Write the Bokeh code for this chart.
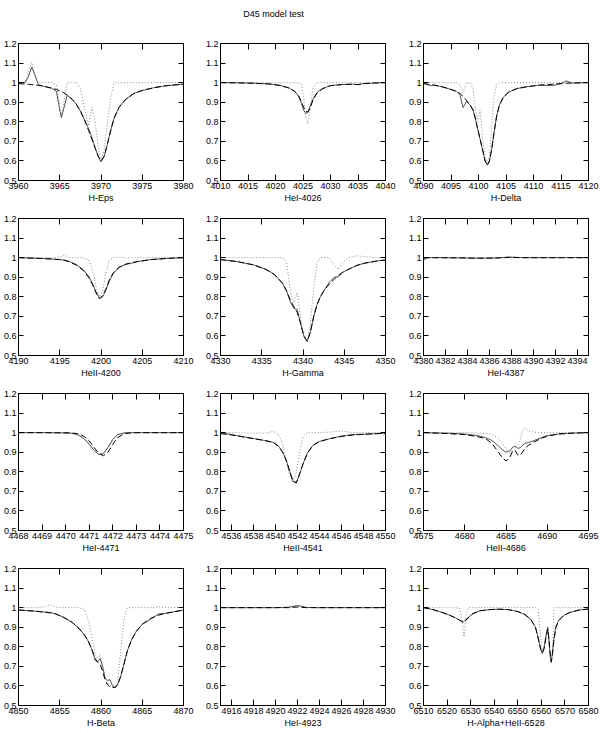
from bokeh.plotting import figure
from bokeh.layouts import column, row
from bokeh.models import Range1d, FixedTicker, LinearAxis, Label
from bokeh.embed import file_html
from bokeh.resources import INLINE

TITLE = "D45 model test"
Y_TICKS = [0.5, 0.6, 0.7, 0.8, 0.9, 1.0, 1.1, 1.2]

# ---- Panel 1: H-Eps
HEPS_LABEL = "H-Eps"
HEPS_XRANGE = [3960, 3980]
HEPS_XTICKS = [3960, 3965, 3970, 3975, 3980]
HEPS_WL = [3960, 3960.8, 3961.2, 3961.6, 3962.0, 3962.4, 3963, 3964, 3964.6, 3965.0, 3965.2, 3965.5, 3965.9,
           3966.5, 3967.0, 3967.5, 3968.0, 3968.5, 3968.9, 3969.3, 3969.7, 3970.0, 3970.4, 3970.8, 3971.2,
           3971.6, 3972.2, 3973, 3974, 3975, 3976.5, 3978, 3980]
HEPS_DOT = [1.0, 1.0, 1.05, 1.105, 1.03, 1.0, 1.0, 1.0, 0.99, 0.88, 0.83, 0.9, 1.0,
            1.0, 1.0, 0.97, 0.87, 0.78, 0.875, 0.8, 0.66, 0.6, 0.66, 0.8, 0.93,
            1.0, 1.0, 1.0, 1.0, 1.0, 1.0, 1.0, 1.0]
HEPS_SOLID = [1.0, 1.0, 1.03, 1.08, 1.04, 0.99, 0.982, 0.972, 0.955, 0.86, 0.82, 0.87, 0.935,
              0.915, 0.89, 0.855, 0.81, 0.765, 0.72, 0.665, 0.62, 0.595, 0.625, 0.69, 0.76,
              0.82, 0.875, 0.915, 0.945, 0.96, 0.975, 0.985, 0.992]
HEPS_DASH = [0.995, 0.993, 0.992, 0.99, 0.988, 0.986, 0.982, 0.972, 0.965, 0.958, 0.955, 0.948, 0.937,
             0.915, 0.89, 0.855, 0.81, 0.755, 0.71, 0.665, 0.62, 0.6, 0.625, 0.69, 0.76,
             0.82, 0.875, 0.915, 0.945, 0.96, 0.975, 0.985, 0.992]

# ---- Panel 2: HeI-4026
HEI4026_LABEL = "HeI-4026"
HEI4026_XRANGE = [4010, 4040]
HEI4026_XTICKS = [4010, 4015, 4020, 4025, 4030, 4035, 4040]
HEI4026_WL = [4010, 4013, 4016, 4019, 4021, 4022.5, 4023.5, 4024.2, 4024.7, 4025.1, 4025.5, 4025.9,
              4026.3, 4026.8, 4027.5, 4028.5, 4030, 4032, 4034, 4035, 4036, 4038, 4040]
HEI4026_DOT = [1.0, 1.0, 1.0, 1.0, 1.0, 1.0, 1.0, 1.0, 0.99, 0.93, 0.82, 0.79,
               0.86, 0.97, 1.0, 1.0, 1.0, 1.0, 1.0, 1.0, 1.0, 1.0, 1.0]
HEI4026_SOLID = [1.0, 0.999, 0.997, 0.993, 0.985, 0.972, 0.955, 0.93, 0.895, 0.86, 0.842, 0.85,
                 0.88, 0.915, 0.948, 0.97, 0.985, 0.99, 0.992, 0.99, 0.995, 0.998, 1.0]
HEI4026_DASH = [1.0, 0.999, 0.997, 0.993, 0.985, 0.972, 0.955, 0.932, 0.905, 0.875, 0.852, 0.85,
                0.87, 0.91, 0.945, 0.968, 0.985, 0.99, 0.992, 0.99, 0.995, 0.998, 1.0]

# ---- Panel 3: H-Delta
HDELTA_LABEL = "H-Delta"
HDELTA_XRANGE = [4090, 4120]
HDELTA_XTICKS = [4090, 4095, 4100, 4105, 4110, 4115, 4120]
HDELTA_WL = [4090, 4090.7, 4091.3, 4092, 4093.5, 4095, 4096, 4096.6, 4097.2, 4097.8, 4098.5, 4099.0,
             4099.4, 4099.8, 4100.3, 4100.8, 4101.2, 4101.6, 4102.0, 4102.4, 4102.8, 4103.3, 4103.8,
             4104.5, 4105.5, 4107, 4109, 4111, 4113.5, 4115, 4116, 4117, 4120]
HDELTA_DOT = [1.0, 1.0, 1.0, 1.0, 1.0, 1.0, 1.0, 0.99, 0.95, 1.0, 1.0, 0.97,
              0.88, 0.8, 0.86, 0.7, 0.62, 0.585, 0.63, 0.78, 0.92, 0.99, 1.0,
              1.0, 1.0, 1.0, 1.0, 1.0, 1.0, 1.0, 1.01, 1.0, 1.0]
HDELTA_SOLID = [1.0, 0.99, 0.985, 0.988, 0.978, 0.965, 0.955, 0.94, 0.872, 0.905, 0.885, 0.86,
                0.82, 0.77, 0.71, 0.65, 0.6, 0.578, 0.6, 0.66, 0.74, 0.83, 0.885,
                0.925, 0.952, 0.97, 0.98, 0.987, 0.985, 0.995, 1.008, 0.998, 1.0]
HDELTA_DASH = [0.995, 0.992, 0.99, 0.987, 0.978, 0.965, 0.955, 0.945, 0.93, 0.91, 0.885, 0.86,
               0.82, 0.77, 0.71, 0.65, 0.6, 0.578, 0.6, 0.66, 0.74, 0.83, 0.885,
               0.925, 0.952, 0.97, 0.98, 0.987, 0.992, 0.995, 0.997, 0.998, 1.0]

# ---- Panel 4: HeII-4200
HEII4200_LABEL = "HeII-4200"
HEII4200_XRANGE = [4190, 4210]
HEII4200_XTICKS = [4190, 4195, 4200, 4205, 4210]
HEII4200_WL = [4190, 4192, 4194, 4195, 4195.6, 4196.2, 4197, 4197.8, 4198.5, 4199.0, 4199.4, 4199.8,
               4200.2, 4200.6, 4201.0, 4201.5, 4202.2, 4203, 4204.5, 4206, 4208, 4210]
HEII4200_DOT = [1.0, 1.0, 1.0, 1.003, 1.012, 1.0, 1.0, 1.0, 0.99, 0.93, 0.85, 0.8,
                0.83, 0.92, 0.985, 1.0, 1.003, 1.0, 1.0, 1.0, 1.0, 1.0]
HEII4200_SOLID = [1.0, 0.997, 0.993, 0.99, 0.987, 0.98, 0.965, 0.94, 0.905, 0.865, 0.825, 0.795,
                  0.8, 0.835, 0.88, 0.92, 0.95, 0.965, 0.98, 0.99, 0.996, 1.0]
HEII4200_DASH = [1.0, 0.997, 0.993, 0.99, 0.986, 0.978, 0.962, 0.937, 0.9, 0.86, 0.82, 0.79,
                 0.805, 0.84, 0.885, 0.923, 0.952, 0.967, 0.981, 0.99, 0.996, 1.0]

# ---- Panel 5: H-Gamma
HGAMMA_LABEL = "H-Gamma"
HGAMMA_XRANGE = [4330, 4350]
HGAMMA_XTICKS = [4330, 4335, 4340, 4345, 4350]
HGAMMA_WL = [4330, 4332, 4334, 4335.5, 4336.5, 4337.5, 4338.0, 4338.5, 4338.9, 4339.3, 4339.7, 4340.1,
             4340.5, 4340.9, 4341.3, 4341.7, 4342.1, 4342.6, 4343.2, 4343.8, 4344.3, 4344.8, 4345.5,
             4346.5, 4347.5, 4349, 4350]
HGAMMA_DOT = [1.0, 1.0, 1.0, 1.0, 1.0, 1.0, 0.98, 0.82, 0.77, 0.82, 0.7, 0.6,
              0.575, 0.66, 0.85, 0.97, 1.0, 1.0, 1.0, 0.96, 0.94, 0.975, 1.0,
              1.01, 1.005, 1.0, 1.0]
HGAMMA_SOLID = [0.99, 0.98, 0.963, 0.94, 0.915, 0.87, 0.83, 0.77, 0.74, 0.735, 0.665, 0.6,
                0.572, 0.62, 0.7, 0.76, 0.8, 0.835, 0.875, 0.9, 0.902, 0.925, 0.94,
                0.96, 0.972, 0.983, 0.988]
HGAMMA_DASH = [0.99, 0.98, 0.963, 0.94, 0.915, 0.87, 0.83, 0.78, 0.75, 0.72, 0.665, 0.6,
               0.572, 0.62, 0.7, 0.76, 0.8, 0.835, 0.865, 0.89, 0.91, 0.925, 0.94,
               0.96, 0.972, 0.983, 0.988]

# ---- Panel 6: HeI-4387
HEI4387_LABEL = "HeI-4387"
HEI4387_XRANGE = [4380, 4395]
HEI4387_XTICKS = [4380, 4382, 4384, 4386, 4388, 4390, 4392, 4394]
HEI4387_WL = [4380, 4380.3, 4381, 4383, 4385, 4386.5, 4387.8, 4389, 4391, 4393, 4395]
HEI4387_DOT = [1.0, 1.0, 1.0, 1.0, 1.0, 1.0, 1.003, 1.0, 1.0, 1.0, 1.0]
HEI4387_SOLID = [0.985, 1.0, 1.0, 0.999, 0.997, 0.998, 1.003, 1.0, 1.0, 1.0, 1.0]
HEI4387_DASH = [0.998, 0.999, 1.0, 0.999, 0.997, 0.998, 1.001, 1.0, 1.0, 1.0, 1.0]

# ---- Panel 7: HeI-4471
HEI4471_LABEL = "HeI-4471"
HEI4471_XRANGE = [4468, 4475]
HEI4471_XTICKS = [4468, 4469, 4470, 4471, 4472, 4473, 4474, 4475]
HEI4471_WL = [4468, 4469, 4469.8, 4470.2, 4470.5, 4470.8, 4471.0, 4471.2, 4471.4, 4471.6, 4471.8,
              4472.0, 4472.2, 4472.5, 4472.8, 4473.2, 4474, 4475]
HEI4471_DOT = [1.0, 1.0, 0.999, 0.997, 0.99, 0.969, 0.942, 0.912, 0.89, 0.894, 0.926,
               0.966, 0.99, 0.999, 1.0, 1.0, 1.0, 1.0]
HEI4471_SOLID = [1.0, 1.0, 0.999, 0.998, 0.99, 0.967, 0.94, 0.91, 0.888, 0.893, 0.925,
                 0.965, 0.99, 0.999, 1.0, 1.0, 1.0, 1.0]
HEI4471_DASH = [1.0, 1.0, 0.999, 0.999, 0.995, 0.98, 0.958, 0.925, 0.895, 0.882, 0.9,
                0.94, 0.975, 0.995, 0.999, 1.0, 1.0, 1.0]

# ---- Panel 8: HeII-4541
HEII4541_LABEL = "HeII-4541"
HEII4541_XRANGE = [4535, 4550]
HEII4541_XTICKS = [4536, 4538, 4540, 4542, 4544, 4546, 4548, 4550]
HEII4541_WL = [4535, 4536, 4537.5, 4539, 4539.8, 4540.3, 4540.7, 4541.0, 4541.3, 4541.6, 4541.9,
               4542.2, 4542.5, 4542.9, 4543.4, 4544, 4545, 4546, 4547, 4548.5, 4550]
HEII4541_DOT = [1.0, 1.0, 0.998, 0.997, 1.006, 0.99, 0.93, 0.85, 0.78, 0.75, 0.8,
                0.9, 0.98, 1.0, 1.0, 1.0, 1.003, 1.008, 1.0, 1.0, 1.0]
HEII4541_SOLID = [1.0, 0.99, 0.975, 0.96, 0.95, 0.93, 0.895, 0.855, 0.8, 0.75, 0.745,
                  0.79, 0.84, 0.895, 0.935, 0.955, 0.97, 0.983, 0.99, 0.993, 0.997]
HEII4541_DASH = [0.995, 0.988, 0.974, 0.96, 0.95, 0.93, 0.895, 0.855, 0.8, 0.75, 0.744,
                 0.79, 0.84, 0.895, 0.935, 0.955, 0.97, 0.98, 0.988, 0.993, 0.997]

# ---- Panel 9: HeII-4686
HEII4686_LABEL = "HeII-4686"
HEII4686_XRANGE = [4675, 4695]
HEII4686_XTICKS = [4675, 4680, 4685, 4690, 4695]
HEII4686_WL = [4675, 4678, 4680, 4681.5, 4682.5, 4683.3, 4684.0, 4684.5, 4685.0, 4685.4, 4685.8,
               4686.1, 4686.4, 4686.7, 4687.0, 4687.3, 4687.7, 4688.3, 4689, 4690, 4691.5, 4693, 4695]
HEII4686_DOT = [1.0, 1.0, 1.0, 0.998, 0.995, 0.99, 0.975, 0.95, 0.915, 0.9, 0.91,
                0.925, 0.94, 0.96, 1.01, 1.024, 1.01, 1.003, 1.0, 1.0, 1.0, 1.0, 1.0]
HEII4686_SOLID = [1.0, 0.997, 0.993, 0.985, 0.975, 0.96, 0.935, 0.915, 0.9, 0.905, 0.925,
                  0.93, 0.92, 0.922, 0.935, 0.945, 0.95, 0.958, 0.97, 0.985, 0.994, 0.998, 1.0]
HEII4686_DASH = [1.0, 0.995, 0.99, 0.98, 0.97, 0.945, 0.905, 0.875, 0.855, 0.868, 0.905,
                 0.91, 0.887, 0.883, 0.9, 0.92, 0.935, 0.95, 0.965, 0.983, 0.993, 0.997, 1.0]

# ---- Panel 10: H-Beta
HBETA_LABEL = "H-Beta"
HBETA_XRANGE = [4850, 4870]
HBETA_XTICKS = [4850, 4855, 4860, 4865, 4870]
HBETA_WL = [4850, 4852, 4853.3, 4853.9, 4854.5, 4855.5, 4856.5, 4857.3, 4858.0, 4858.5, 4858.9,
            4859.3, 4859.6, 4859.9, 4860.2, 4860.5, 4860.8, 4861.1, 4861.4, 4861.7, 4862.0, 4862.4,
            4862.8, 4863.2, 4863.7, 4864.3, 4865, 4866, 4867, 4868, 4870]
HBETA_DOT = [1.0, 1.0, 1.005, 1.016, 1.003, 1.0, 1.0, 1.0, 0.99, 0.93, 0.85,
             0.76, 0.74, 0.76, 0.69, 0.64, 0.62, 0.6, 0.6, 0.6, 0.62, 0.78,
             0.95, 1.0, 1.0, 1.0, 1.0, 1.0, 1.005, 1.0, 1.0]
HBETA_SOLID = [0.988, 0.982, 0.977, 0.975, 0.968, 0.95, 0.925, 0.895, 0.86, 0.825, 0.785,
               0.73, 0.723, 0.74, 0.7, 0.64, 0.628, 0.632, 0.6, 0.59, 0.605, 0.65,
               0.715, 0.78, 0.835, 0.88, 0.915, 0.94, 0.968, 0.972, 0.988]
HBETA_DASH = [0.988, 0.982, 0.976, 0.973, 0.968, 0.95, 0.925, 0.895, 0.86, 0.825, 0.785,
              0.74, 0.72, 0.71, 0.675, 0.63, 0.605, 0.595, 0.592, 0.593, 0.605, 0.65,
              0.715, 0.78, 0.835, 0.88, 0.915, 0.945, 0.962, 0.972, 0.988]

# ---- Panel 11: HeI-4923
HEI4923_LABEL = "HeI-4923"
HEI4923_XRANGE = [4915, 4930]
HEI4923_XTICKS = [4916, 4918, 4920, 4922, 4924, 4926, 4928, 4930]
HEI4923_WL = [4915, 4918, 4920, 4921.2, 4921.7, 4922.0, 4922.3, 4922.8, 4924, 4926, 4928, 4930]
HEI4923_DOT = [1.0, 1.0, 1.0, 1.002, 1.007, 1.009, 1.006, 1.001, 1.0, 1.0, 1.0, 1.0]
HEI4923_SOLID = [1.0, 1.0, 1.0, 1.002, 1.008, 1.01, 1.008, 1.001, 1.0, 1.0, 1.0, 1.0]
HEI4923_DASH = [1.0, 1.0, 1.0, 1.0, 1.002, 1.003, 1.002, 1.0, 1.0, 1.0, 1.0, 1.0]

# ---- Panel 12: H-Alpha+HeII-6528
HALPHA_LABEL = "H-Alpha+HeII-6528"
HALPHA_XRANGE = [6510, 6580]
HALPHA_XTICKS = [6510, 6520, 6530, 6540, 6550, 6560, 6570, 6580]
HALPHA_WL = [6510, 6514, 6518, 6521, 6523.5, 6525.5, 6526.5, 6527.2, 6528, 6529, 6531, 6534, 6538,
             6542, 6546, 6550, 6553, 6555.5, 6557.5, 6558.7, 6559.7, 6560.4, 6561.2, 6562.0, 6562.7,
             6563.3, 6563.8, 6564.2, 6564.7, 6565.3, 6566.2, 6567.5, 6569.5, 6572, 6576, 6580]
HALPHA_DOT = [1.0, 1.0, 1.0, 1.0, 1.0, 0.995, 0.92, 0.85, 0.95, 1.0, 1.0, 1.0, 1.0,
              1.0, 1.0, 1.0, 1.0, 1.0, 1.0, 0.99, 0.85, 0.77, 0.8, 0.86, 0.9,
              0.82, 0.75, 0.73, 0.75, 1.0, 1.0, 1.0, 1.0, 1.0, 1.0, 1.0]
HALPHA_SOLID = [1.0, 0.99, 0.975, 0.962, 0.948, 0.935, 0.925, 0.93, 0.94, 0.95, 0.97, 0.984, 0.99,
                0.992, 0.99, 0.98, 0.965, 0.94, 0.9, 0.845, 0.785, 0.765, 0.8, 0.86, 0.9,
                0.82, 0.745, 0.72, 0.77, 0.84, 0.905, 0.937, 0.96, 0.975, 0.988, 0.993]
HALPHA_DASH = [1.0, 0.99, 0.975, 0.962, 0.948, 0.935, 0.928, 0.925, 0.935, 0.948, 0.97, 0.984, 0.99,
               0.992, 0.99, 0.98, 0.965, 0.94, 0.9, 0.84, 0.79, 0.77, 0.79, 0.85, 0.89,
               0.83, 0.76, 0.723, 0.76, 0.83, 0.9, 0.935, 0.96, 0.975, 0.988, 0.993]

PANELS = [
    [(HEPS_LABEL, HEPS_XRANGE, HEPS_XTICKS, HEPS_WL, HEPS_DOT, HEPS_SOLID, HEPS_DASH),
     (HEI4026_LABEL, HEI4026_XRANGE, HEI4026_XTICKS, HEI4026_WL, HEI4026_DOT, HEI4026_SOLID, HEI4026_DASH),
     (HDELTA_LABEL, HDELTA_XRANGE, HDELTA_XTICKS, HDELTA_WL, HDELTA_DOT, HDELTA_SOLID, HDELTA_DASH)],
    [(HEII4200_LABEL, HEII4200_XRANGE, HEII4200_XTICKS, HEII4200_WL, HEII4200_DOT, HEII4200_SOLID, HEII4200_DASH),
     (HGAMMA_LABEL, HGAMMA_XRANGE, HGAMMA_XTICKS, HGAMMA_WL, HGAMMA_DOT, HGAMMA_SOLID, HGAMMA_DASH),
     (HEI4387_LABEL, HEI4387_XRANGE, HEI4387_XTICKS, HEI4387_WL, HEI4387_DOT, HEI4387_SOLID, HEI4387_DASH)],
    [(HEI4471_LABEL, HEI4471_XRANGE, HEI4471_XTICKS, HEI4471_WL, HEI4471_DOT, HEI4471_SOLID, HEI4471_DASH),
     (HEII4541_LABEL, HEII4541_XRANGE, HEII4541_XTICKS, HEII4541_WL, HEII4541_DOT, HEII4541_SOLID, HEII4541_DASH),
     (HEII4686_LABEL, HEII4686_XRANGE, HEII4686_XTICKS, HEII4686_WL, HEII4686_DOT, HEII4686_SOLID, HEII4686_DASH)],
    [(HBETA_LABEL, HBETA_XRANGE, HBETA_XTICKS, HBETA_WL, HBETA_DOT, HBETA_SOLID, HBETA_DASH),
     (HEI4923_LABEL, HEI4923_XRANGE, HEI4923_XTICKS, HEI4923_WL, HEI4923_DOT, HEI4923_SOLID, HEI4923_DASH),
     (HALPHA_LABEL, HALPHA_XRANGE, HALPHA_XTICKS, HALPHA_WL, HALPHA_DOT, HALPHA_SOLID, HALPHA_DASH)],
]

FONT = "Liberation Sans"
FS = "9px"
COL_W = [200, 200, 199]
COL_BL = [17, 20, 23]
COL_BR = [17, 15, 11]
ROW_H = 175
TITLE_H = 30


def style_axis(ax, tick_in, show_labels):
    ax.axis_line_color = "black"
    ax.axis_line_width = 1
    ax.major_tick_in = tick_in
    ax.major_tick_out = 0
    ax.major_tick_line_color = "black"
    ax.minor_tick_line_color = None
    ax.major_label_text_font = FONT
    if show_labels:
        ax.major_label_text_font_size = FS
        ax.major_label_standoff = 2
        ax.major_label_text_color = "black"
    else:
        ax.major_label_text_font_size = "1px"
        ax.major_label_text_color = None
        ax.major_label_standoff = 0


def make_panel(spec, ci):
    label, xr, xticks, wl, dot, sol, dash = spec
    p = figure(width=COL_W[ci], height=ROW_H,
               x_range=Range1d(xr[0], xr[1]), y_range=Range1d(0.5, 1.2),
               output_backend="svg", toolbar_location=None,
               min_border_left=COL_BL[ci], min_border_right=COL_BR[ci],
               min_border_top=13, min_border_bottom=25)
    p.grid.visible = False
    p.outline_line_color = "black"
    p.outline_line_alpha = 1
    p.outline_line_width = 1
    p.background_fill_color = "white"
    p.border_fill_color = "white"

    p.xaxis.ticker = FixedTicker(ticks=xticks)
    p.yaxis.ticker = FixedTicker(ticks=Y_TICKS)
    style_axis(p.xaxis[0], 6, True)
    style_axis(p.yaxis[0], 5, True)
    p.yaxis.major_label_overrides = {1: "1"}
    p.xaxis.axis_label = label
    p.xaxis.axis_label_text_font = FONT
    p.xaxis.axis_label_text_font_size = FS
    p.xaxis.axis_label_text_font_style = "normal"
    p.xaxis.axis_label_text_color = "black"
    p.xaxis.axis_label_standoff = 1

    top = LinearAxis(ticker=FixedTicker(ticks=xticks))
    style_axis(top, 6, False)
    p.add_layout(top, "above")
    right = LinearAxis(ticker=FixedTicker(ticks=Y_TICKS))
    style_axis(right, 5, False)
    p.add_layout(right, "right")

    p.line(wl, dot, line_color="#8a8a8a", line_width=1, line_dash="1 2")
    p.line(wl, sol, line_color="#555555", line_width=1)
    p.line(wl, dash, line_color="black", line_width=1, line_dash="6 3")
    return p


title_fig = figure(width=599, height=TITLE_H, output_backend="svg", toolbar_location=None,
                   x_axis_type=None, y_axis_type=None, min_border=0,
                   x_range=Range1d(0, 1), y_range=Range1d(0, 1))
title_fig.outline_line_color = None
title_fig.grid.visible = False
title_fig.add_layout(Label(x=273, y=17, x_units="screen", y_units="screen", text=TITLE,
                           text_align="center", text_baseline="middle",
                           text_font=FONT, text_font_size=FS, text_color="black"))

rows = [title_fig]
for r in PANELS:
    rows.append(row(*[make_panel(spec, ci) for ci, spec in enumerate(r)]))

layout = column(*rows)

open("out.html", "w").write(file_html(layout, INLINE))
